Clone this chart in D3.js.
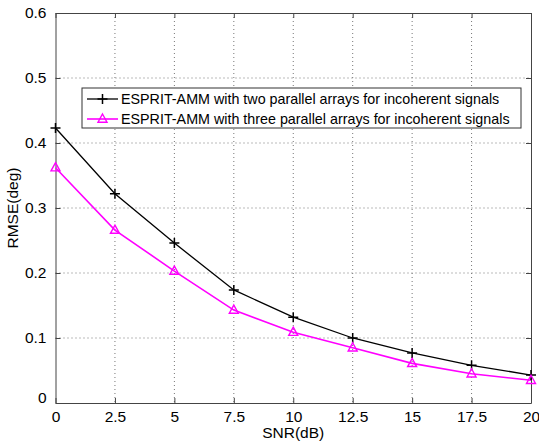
<!DOCTYPE html>
<html>
<head>
<meta charset="utf-8">
<script src="https://cdn.jsdelivr.net/npm/d3@7"></script>
<style>
  body { margin: 0; background: #fff; }
  text { font-family: "Liberation Sans", Arial, sans-serif; }
</style>
</head>
<body>
<svg id="chart" width="539" height="443"></svg>
<script>
// data
var snr = [0, 2.5, 5, 7.5, 10, 12.5, 15, 17.5, 20];
var rmseTwo = [0.423, 0.322, 0.246, 0.174, 0.132, 0.100, 0.077, 0.058, 0.043];
var rmseThree = [0.362, 0.266, 0.203, 0.143, 0.109, 0.085, 0.061, 0.045, 0.035];
var xTicks = [0, 2.5, 5, 7.5, 10, 12.5, 15, 17.5, 20];
var yTicks = [0, 0.1, 0.2, 0.3, 0.4, 0.5, 0.6];
var seriesNames = [
  "ESPRIT-AMM with two parallel arrays for incoherent signals",
  "ESPRIT-AMM with three parallel arrays for incoherent signals"
];

var svg = d3.select("#chart");
var margin = { top: 13, right: 8, bottom: 40, left: 55.5 };
var W = +svg.attr("width") - margin.left - margin.right;
var H = +svg.attr("height") - margin.top - margin.bottom;

var g = svg.append("g")
  .attr("transform", "translate(" + margin.left + "," + margin.top + ")");

var x = d3.scaleLinear().domain([0, 20]).range([0, W]);
var y = d3.scaleLinear().domain([0, 0.6]).range([H, 0]);

// 网格
g.append("g").selectAll("line").data(xTicks.slice(1, -1)).enter().append("line")
  .attr("x1", function(d) { return x(d); }).attr("x2", function(d) { return x(d); })
  .attr("y1", 0).attr("y2", H)
  .attr("stroke", "#777").attr("stroke-width", 1).attr("stroke-dasharray", "1,3");
g.append("g").selectAll("line").data(yTicks.slice(1, -1)).enter().append("line")
  .attr("y1", function(d) { return y(d); }).attr("y2", function(d) { return y(d); })
  .attr("x1", 0).attr("x2", W)
  .attr("stroke", "#777").attr("stroke-width", 1).attr("stroke-dasharray", "1,3");

// axes (matlab style, ticks inside)
var fmtX = function(d) { return String(d); };
var fmtY = function(d) { return d === 0 ? "0" : d3.format(".1f")(d); };

var xAxis = g.append("g").attr("transform", "translate(0," + H + ")")
  .call(d3.axisBottom(x).tickValues(xTicks).tickFormat(fmtX).tickSizeInner(-5).tickSizeOuter(0).tickPadding(8));
var xTop = g.append("g")
  .call(d3.axisTop(x).tickValues(xTicks).tickFormat("").tickSizeInner(-5).tickSizeOuter(0));
var yAxis = g.append("g")
  .call(d3.axisLeft(y).tickValues(yTicks).tickFormat(fmtY).tickSizeInner(-5).tickSizeOuter(0).tickPadding(9));
var yRight = g.append("g").attr("transform", "translate(" + W + ",0)")
  .call(d3.axisRight(y).tickValues(yTicks).tickFormat("").tickSizeInner(-5).tickSizeOuter(0));

[xAxis, xTop, yAxis, yRight].forEach(function(a) {
  a.selectAll("path, line").attr("stroke", "#444");
  a.selectAll("text").attr("fill", "#000").style("font-size", "15.5px")
    .style("font-family", "'Liberation Sans', Arial, sans-serif");
});
yAxis.selectAll(".tick").filter(function(d) { return d === 0; }).select("text").attr("dy", "-0.05em");

// lines
var line2 = d3.line().x(function(d, i) { return x(snr[i]); }).y(function(d) { return y(d); });

g.append("path").datum(rmseTwo).attr("d", line2)
  .attr("fill", "none").attr("stroke", "#000").attr("stroke-width", 1.3);
g.append("path").datum(rmseThree).attr("d", line2)
  .attr("fill", "none").attr("stroke", "#ff00ff").attr("stroke-width", 1.6);

function drawPlus(sel, cx, cy) {
  sel.append("path")
    .attr("d", "M" + (cx - 5) + "," + cy + "H" + (cx + 5) + "M" + cx + "," + (cy - 5) + "V" + (cy + 5))
    .attr("stroke", "#000").attr("stroke-width", 1.5).attr("fill", "none");
}
function drawTri(sel, cx, cy) {
  sel.append("path")
    .attr("d", "M" + cx + "," + (cy - 5) + "L" + (cx + 4.5) + "," + (cy + 3.2) + "L" + (cx - 4.5) + "," + (cy + 3.2) + "Z")
    .attr("stroke", "#ff00ff").attr("stroke-width", 1.4).attr("fill", "none");
}
var mk = g.append("g");
rmseTwo.forEach(function(d, i) { drawPlus(mk, x(snr[i]), y(d)); });
rmseThree.forEach(function(d, i) { drawTri(mk, x(snr[i]), y(d)); });

// axis titles
g.append("text").attr("x", W / 2).attr("y", H + 35).attr("text-anchor", "middle")
  .style("font-size", "15.5px").text("SNR(dB)");
g.append("text").attr("transform", "translate(" + (-38) + "," + (H / 2) + ") rotate(-90)")
  .attr("text-anchor", "middle").style("font-size", "15.5px").text("RMSE(deg)");

// legend
var lg = svg.append("g").attr("transform", "translate(82,88)");
lg.append("rect").attr("width", 439).attr("height", 40)
  .attr("fill", "#fff").attr("stroke", "#333").attr("stroke-width", 1);
var rowsY = [11, 31];
lg.append("line").attr("x1", 5).attr("x2", 36).attr("y1", rowsY[0]).attr("y2", rowsY[0])
  .attr("stroke", "#000").attr("stroke-width", 1.3);
drawPlus(lg, 20.5, rowsY[0]);
lg.append("line").attr("x1", 5).attr("x2", 36).attr("y1", rowsY[1]).attr("y2", rowsY[1])
  .attr("stroke", "#ff00ff").attr("stroke-width", 1.6);
drawTri(lg, 20.5, rowsY[1]);
lg.selectAll("text.leg").data(seriesNames).enter().append("text")
  .attr("x", 39).attr("y", function(d, i) { return rowsY[i]; }).attr("dy", "0.36em")
  .style("font-size", "14.3px").text(function(d) { return d; });
</script>
</body>
</html>
